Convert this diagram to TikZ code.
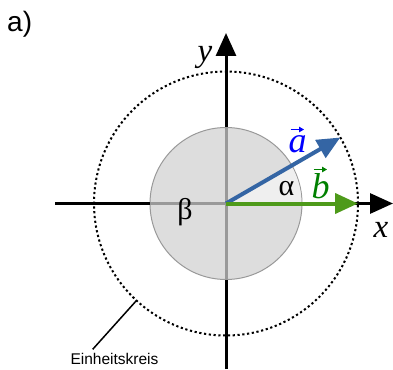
\documentclass[tikz,border=0pt]{standalone}
\usepackage{fontspec}
\setmainfont{Liberation Serif}
\newfontfamily\labsans{Liberation Sans}
\usetikzlibrary{arrows.meta}
\definecolor{aline}{HTML}{3465A4}
\definecolor{bline}{HTML}{4E9A1A}
\definecolor{alab}{HTML}{0000FF}
\definecolor{blab}{HTML}{008000}
\definecolor{diskfill}{HTML}{DDDDDD}
\definecolor{sectorfill}{HTML}{EFEFEF}
\definecolor{diskedge}{HTML}{999999}
\begin{document}
\begin{tikzpicture}[x=1pt,y=-1pt,
  axisline/.style={line width=3pt,black},
  innerline/.style={line width=3pt,diskedge},
  tip/.style={-{Triangle[length=23pt,width=20pt]}},
  vecline/.style={line width=4pt,tip},
  accent/.style={line width=1.4pt,-{Triangle[length=5pt,width=5.5pt]}},
  dotcircle/.style={draw,line width=2pt,dash pattern=on 2.2pt off 2.6pt},
  mathlab/.style={inner sep=0pt,anchor=base,font=\fontsize{33}{37}\selectfont\itshape},
  greeklab/.style={inner sep=0pt,anchor=base,font=\fontsize{30}{34}\selectfont},
  veclabel/.style={inner sep=0pt,anchor=base,font=\fontsize{36}{40}\selectfont\itshape}]
\useasboundingbox (0,0) rectangle (393,369);
\coordinate (O) at (226,203.5);
\coordinate (xl) at (55,203.5);
\coordinate (xr) at (393,203.5);
\coordinate (yb) at (226,369);
\coordinate (yt) at (226,33);
\coordinate (atip) at (340.3,137.5);
\coordinate (btip) at (358,203.5);
% circles
\node[circle,dotcircle,minimum size=264pt,inner sep=0pt] (unit) at (O) {};
\node[circle,fill=diskfill,draw=diskedge,line width=1pt,minimum size=152pt,inner sep=0pt] (disk) at (O) {};
\fill[sectorfill] (O) -- ++(75.5,0) arc[start angle=0,end angle=-30,radius=75.5] -- cycle;
% axes
\draw[axisline,tip] (xl) -- (xr);
\draw[axisline,tip] (yb) -- (yt);
\draw[innerline] (disk.west) -- (disk.east);
\draw[innerline] (disk.north) -- (disk.south);
% vectors
\draw[vecline,aline] (O) -- (atip);
\draw[vecline,bline] (O) -- (btip);
% labels
\node[veclabel,text=alab] (la) at (297.5,152) {a};
\coordinate (aacc1) at (290.5,129.5);
\coordinate (aacc2) at (304,129.5);
\draw[accent,alab] (aacc1) -- (aacc2);
\node[veclabel,text=blab] (lb) at (320.5,198) {b};
\coordinate (bacc1) at (313.5,169.5);
\coordinate (bacc2) at (327,169.5);
\draw[accent,blab] (bacc1) -- (bacc2);
\node[greeklab] (alpha) at (286.5,195) {α};
\node[greeklab] (beta) at (185,219) {β};
\node[mathlab] (xlab) at (381,237) {x};
\node[mathlab] (ylab) at (205,62) {y};
\node[inner sep=0pt,anchor=base west,font=\labsans\fontsize{28}{31}\selectfont] (panel) at (7,32) {a)};
\node[inner sep=0pt,anchor=base,font=\labsans\fontsize{15.5}{18}\selectfont] (ein) at (114.5,364) {Einheitskreis};
\coordinate (lead1) at (136.5,300.5);
\coordinate (lead2) at (92.7,349.3);
\draw[line width=1.5pt] (lead1) -- (lead2);
\end{tikzpicture}
\end{document}
